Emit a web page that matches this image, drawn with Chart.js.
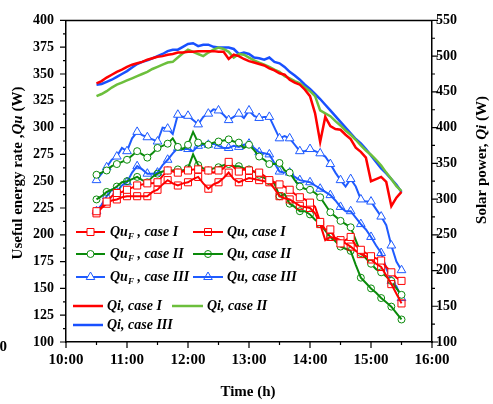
<!DOCTYPE html>
<html>
<head>
<meta charset="utf-8">
<script src="https://cdn.jsdelivr.net/npm/chart.js@4"></script>
<style>
  html, body { margin: 0; padding: 0; background: #fff; }
  #wrap { width: 493px; height: 404px; }
</style>
</head>
<body>
<div id="wrap"><canvas id="chart" width="493" height="404"></canvas></div>
<script>
// Sampling times (every 5 min)
const times = ['10:30','10:35','10:40','10:45','10:50','10:55','11:00','11:05','11:10','11:15',
  '11:20','11:25','11:30','11:35','11:40','11:45','11:50','11:55','12:00','12:05',
  '12:10','12:15','12:20','12:25','12:30','12:35','12:40','12:45','12:50','12:55',
  '13:00','13:05','13:10','13:15','13:20','13:25','13:30','13:35','13:40','13:45',
  '13:50','13:55','14:00','14:05','14:10','14:15','14:20','14:25','14:30','14:35',
  '14:40','14:45','14:50','14:55','15:00','15:05','15:10','15:15','15:20','15:25','15:30'];

// Useful energy rate (left axis, W)
const quF1 = [222,226,231,236,239,240,242,244,246,247, 248,248,249,255,260,259,258,259,260,261,
  261,260,260,258,260,262,268,263,259,261, 260,259,258,255,251,249,247,245,242,238,
  235,233,230,226,212,205,205,196,192,195, 198,190,186,183,180,178,176,170,165,160, 157];
const qu1 = [220,225,229,232,233,235,236,236,236,236, 236,240,242,247,251,248,246,248,249,252,
  254,248,243,247,249,253,258,252,249,251, 253,252,251,250,249,243,236,234,233,230,
  227,226,225,220,210,195,198,197,195,192, 189,185,182,180,177,173,170,162,154,145, 136];
const quF2 = [256,258,260,264,266,268,270,274,278,275, 272,276,281,283,285,290,282,280,284,296,
  286,285,284,286,287,288,289,287,286,281, 284,279,273,270,266,266,267,260,258,251,
  245,243,242,239,235,228,221,217,213,210, 207,195,183,178,173,168,165,161,157,150, 144];
const qu2 = [233,236,240,242,245,249,250,252,254,251, 249,254,257,259,260,260,261,260,262,275,
  265,262,260,262,263,265,266,264,264,262, 261,259,256,253,250,248,236,238,229,226,
  222,222,219,214,210,204,198,194,189,187, 185,172,160,155,150,146,141,137,133,127, 121];
const quF3 = [251,257,263,270,273,281,278,290,296,293, 291,289,287,300,299,294,312,310,311,307,
  303,310,313,317,316,312,307,310,313,309, 316,311,309,310,310,300,290,292,290,284,
  278,278,280,278,276,273,266,258,251,245, 252,245,233,231,231,224,217,209,190,175, 167];
const qu3 = [222,228,236,242,240,246,249,258,264,261, 257,257,258,265,270,276,281,280,280,278,
  283,284,284,285,283,281,281,283,282,284, 285,281,277,276,275,267,259,258,258,254,
  251,250,249,246,243,240,237,232,226,222, 222,216,210,205,198,190,183,169,157,152, 141];

// Solar power (right axis, W)
const qi1 = [462,465,470,474,478,481,485,488,490,492, 495,497,499,500,502,503,505,505,506,506,
  507,507,507,507,506,506,496,502,500,496, 493,491,489,487,483,480,476,474,467,463,
  460,453,444,420,380,415,402,398,397,390, 384,372,366,358,325,328,331,324,290,302, 310];
const qi2 = [444,447,451,456,460,463,466,469,472,475, 478,482,485,488,491,492,498,504,509,506,
  503,500,505,509,512,510,506,498,503,502, 498,494,491,488,485,481,478,472,469,465,
  462,456,451,444,424,420,416,409,403,396, 390,383,375,368,362,355,347,337,328,318, 311];
const qi3 = [460,461,464,467,471,475,479,484,489,492, 494,497,500,503,507,509,509,513,517,518,
  514,516,516,513,512,512,512,510,503,505, 503,498,497,495,498,492,490,485,478,473,
  467,460,454,447,440,432,424,416,408,400, 392,384,378,370,361,352,343,336,328,320, 310];

const serif = "'Liberation Serif', 'Times New Roman', serif";
const RED = '#ff0000', GREEN = '#0a8a0a', BLUE = '#1f5bff';
const QI_GREEN = '#6cbf3c', QI_BLUE = '#1850ff';

function toHours(t) {
  const p = t.split(':');
  return +p[0] + p[1] / 60;
}
function pts(vals) {
  return times.map((t, i) => ({ x: toHours(t), y: vals[i] }));
}
// markers on every second sample, like the original plot
const every2 = r => c => (c.dataIndex % 2 === 0 ? r : 0);

function quSet(label, vals, color, shape, r, fill) {
  return {
    label, data: pts(vals), yAxisID: 'y',
    borderColor: color, borderWidth: 2,
    pointStyle: shape, pointRadius: every2(r), pointBorderWidth: 1,
    pointBorderColor: color, pointBackgroundColor: fill
  };
}
function qiSet(label, vals, color) {
  return {
    label, data: pts(vals), yAxisID: 'y2',
    borderColor: color, borderWidth: 2.5, pointRadius: 0
  };
}

const datasets = [
  quSet('QuF, case I', quF1, RED, 'rect', 5, '#fff'),
  quSet('Qu, case I', qu1, RED, 'rect', 5, 'rgba(255,255,255,0)'),
  quSet('QuF, case II', quF2, GREEN, 'circle', 3.5, '#fff'),
  quSet('Qu, case II', qu2, GREEN, 'circle', 3.5, 'rgba(255,255,255,0)'),
  quSet('QuF, case III', quF3, BLUE, 'triangle', 5, '#fff'),
  quSet('Qu, case III', qu3, BLUE, 'triangle', 5, 'rgba(255,255,255,0)'),
  qiSet('Qi, case I', qi1, RED),
  qiSet('Qi, case II', qi2, QI_GREEN),
  qiSet('Qi, case III', qi3, QI_BLUE)
];

// draw a run of text parts: [text, style] with style b / bi / sub
function richText(c, parts, x, y, size) {
  const fontOf = s => s === 'sub' ? `italic bold ${Math.round(size * 0.65)}px ${serif}`
    : (s === 'bi' ? `italic bold ${size}px ${serif}` : `bold ${size}px ${serif}`);
  let total = 0;
  parts.forEach(p => { c.font = fontOf(p[1]); total += c.measureText(p[0]).width; });
  return { total, draw(startX) {
    let cx = startX;
    c.textBaseline = 'middle';
    c.textAlign = 'left';
    parts.forEach(p => {
      c.font = fontOf(p[1]);
      c.fillText(p[0], cx, p[1] === 'sub' ? y + size * 0.3 : y);
      cx += c.measureText(p[0]).width;
    });
  } };
}

function marker(c, shape, x, y, color, fill) {
  c.beginPath();
  if (shape === 'rect') c.rect(x - 3.5, y - 3.5, 7, 7);
  else if (shape === 'circle') c.arc(x, y, 3.5, 0, Math.PI * 2);
  else { c.moveTo(x, y - 5); c.lineTo(x + 4.3, y + 2.5); c.lineTo(x - 4.3, y + 2.5); c.closePath(); }
  c.fillStyle = fill; c.fill();
  c.strokeStyle = color; c.lineWidth = 1; c.stroke();
}

const framePlugin = {
  id: 'frame',
  afterDraw(chart) {
    const c = chart.ctx, a = chart.chartArea;
    const sx = chart.scales.x, sy = chart.scales.y, sy2 = chart.scales.y2;
    c.save();
    c.strokeStyle = '#000';
    c.lineWidth = 1.5;
    c.beginPath();
    c.moveTo(a.left, a.top); c.lineTo(a.right, a.top);
    c.stroke();
    c.lineWidth = 1.2;
    c.beginPath();
    for (let v = 10; v <= 16; v += 0.5) {
      const px = sx.getPixelForValue(v), len = Number.isInteger(v) ? 6 : 3;
      c.moveTo(px, a.bottom); c.lineTo(px, a.bottom + len);
    }
    for (let v = 100; v <= 400; v += 12.5) {
      const py = sy.getPixelForValue(v), len = v % 25 === 0 ? 6 : 3;
      c.moveTo(a.left - len, py); c.lineTo(a.left, py);
    }
    for (let v = 100; v <= 550; v += 25) {
      const py = sy2.getPixelForValue(v), len = v % 50 === 0 ? 6 : 3;
      c.moveTo(a.right, py); c.lineTo(a.right + len, py);
    }
    c.stroke();

    // axis titles
    c.fillStyle = '#000';
    const bottom = richText(c, [['Time (h)', 'b']], 0, 392, 15);
    bottom.draw(248 - bottom.total / 2);

    c.save();
    c.translate(18, 173);
    c.rotate(-Math.PI / 2);
    const left = richText(c, [['Useful energy rate ,', 'b'], ['Qu', 'bi'], [' (W)', 'b']], 0, 0, 15);
    left.draw(-left.total / 2);
    c.restore();

    c.save();
    c.translate(482, 160);
    c.rotate(-Math.PI / 2);
    const right = richText(c, [['Solar power, ', 'b'], ['Qi', 'bi'], [' (W)', 'b']], 0, 0, 15);
    right.draw(-right.total / 2);
    c.restore();

    // cut-off label at the left edge of the original figure
    c.font = `bold 15px ${serif}`;
    c.textAlign = 'right';
    c.textBaseline = 'middle';
    c.fillText('0', 7, 347);
    c.restore();
  }
};

const legendPlugin = {
  id: 'inlineLegend',
  afterDraw(chart) {
    const c = chart.ctx;
    c.save();
    c.fillStyle = '#000';
    const quRows = [
      { y: 232, color: RED, shape: 'rect', name: 'case I' },
      { y: 254, color: GREEN, shape: 'circle', name: 'case II' },
      { y: 277, color: BLUE, shape: 'triangle', name: 'case III' }
    ];
    quRows.forEach(r => {
      c.strokeStyle = r.color; c.lineWidth = 2;
      c.beginPath(); c.moveTo(76, r.y); c.lineTo(105, r.y); c.stroke();
      marker(c, r.shape, 90.5, r.y, r.color, '#fff');
      c.fillStyle = '#000';
      richText(c, [['Qu', 'bi'], ['F', 'sub'], [' , ' + r.name, 'bi']], 0, r.y, 14).draw(110);

      c.strokeStyle = r.color; c.lineWidth = 2;
      c.beginPath(); c.moveTo(193, r.y); c.lineTo(223, r.y); c.stroke();
      marker(c, r.shape, 208, r.y, r.color, 'rgba(255,255,255,0)');
      c.fillStyle = '#000';
      richText(c, [['Qu, ' + r.name, 'bi']], 0, r.y, 14).draw(227);
    });
    const qiRows = [
      { x1: 73, x2: 103, tx: 107, y: 306, color: RED, label: 'Qi, case I' },
      { x1: 172, x2: 203, tx: 207, y: 306, color: QI_GREEN, label: 'Qi, case II' },
      { x1: 73, x2: 103, tx: 107, y: 325, color: QI_BLUE, label: 'Qi, case III' }
    ];
    qiRows.forEach(r => {
      c.strokeStyle = r.color; c.lineWidth = 2.5;
      c.beginPath(); c.moveTo(r.x1, r.y); c.lineTo(r.x2, r.y); c.stroke();
      c.fillStyle = '#000';
      richText(c, [[r.label, 'bi']], 0, r.y, 14).draw(r.tx);
    });
    c.restore();
  }
};

const axisBorder = { display: true, color: '#000', width: 1.5 };
const noGrid = { display: false, drawTicks: false };

new Chart(document.getElementById('chart').getContext('2d'), {
  type: 'line',
  data: { datasets },
  options: {
    responsive: false,
    animation: false,
    events: [],
    layout: { padding: { top: 10, left: 0, right: 0, bottom: 0 } },
    elements: { line: { tension: 0 } },
    plugins: { legend: { display: false }, tooltip: { enabled: false } },
    scales: {
      x: {
        type: 'linear', position: 'bottom', min: 10, max: 16,
        afterFit: s => { s.height = 62; },
        grid: noGrid, border: axisBorder,
        ticks: {
          stepSize: 1, autoSkip: false, maxRotation: 0, padding: 9, color: '#000',
          font: { family: serif, weight: 'bold', size: 15 },
          callback: v => v + ':00'
        }
      },
      y: {
        position: 'left', min: 100, max: 400,
        afterFit: s => { s.width = 66; },
        grid: noGrid, border: axisBorder,
        ticks: { stepSize: 25, padding: 12, color: '#000', font: { family: serif, weight: 'bold', size: 14 } }
      },
      y2: {
        position: 'right', min: 100, max: 550,
        afterFit: s => { s.width = 61; },
        grid: noGrid, border: axisBorder,
        ticks: { stepSize: 50, padding: 4, color: '#000', font: { family: serif, weight: 'bold', size: 14 } }
      }
    }
  },
  plugins: [framePlugin, legendPlugin]
});
</script>
</body>
</html>
